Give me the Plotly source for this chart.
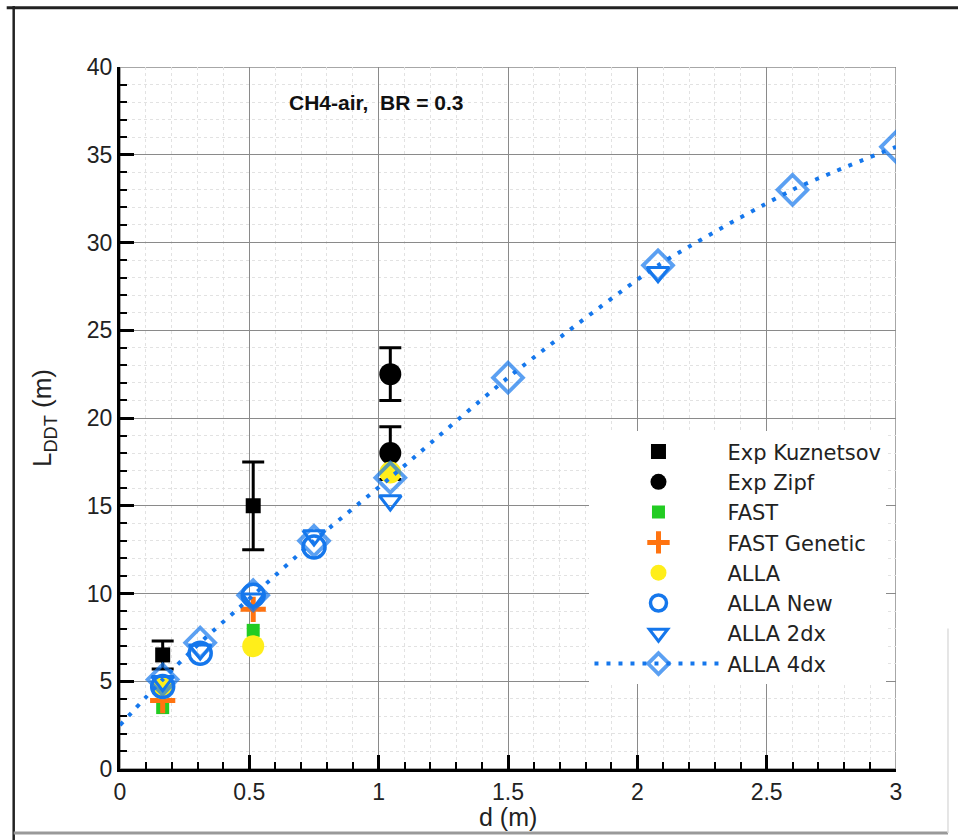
import plotly.graph_objects as go

# ---- data ----
kuz_x = [0.165, 0.515]
kuz_y = [6.5, 15.0]
kuz_err = [0.8, 2.5]

zipf_x = [1.045, 1.045]
zipf_y = [22.5, 18.0]
zipf_err = [1.5, 1.5]

fast_x = [0.165, 0.515]
fast_y = [3.5, 7.9]

fastgen_x = [0.165, 0.515]
fastgen_y = [3.9, 9.1]

alla_x = [0.165, 0.515, 1.045]
alla_y = [4.6, 7.0, 16.9]

allanew_x = [0.165, 0.31, 0.515, 0.75]
allanew_y = [4.7, 6.6, 9.9, 12.65]

alla2_x = [0.165, 0.31, 0.515, 0.75, 1.045, 2.08]
alla2_y = [5.0, 6.8, 9.7, 13.3, 15.3, 28.3]

alla4_x = [0.0, 0.165, 0.31, 0.515, 0.75, 1.045, 1.5, 2.08, 2.6, 3.0]
alla4_y = [2.5, 5.1, 7.2, 9.9, 13.0, 16.6, 22.3, 28.7, 33.0, 35.45]

x_ticks = [0, 0.5, 1, 1.5, 2, 2.5, 3]
x_labels = ["0", "0.5", "1", "1.5", "2", "2.5", "3"]
y_ticks = [0, 5, 10, 15, 20, 25, 30, 35, 40]

BLUE = "#1577ec"
NARROW = "Liberation Sans Narrow, Arial Narrow, Liberation Sans, Arial"
LEG = "DejaVu Sans, Liberation Sans, Arial"

fig = go.Figure()

fig.add_trace(go.Scatter(
    x=kuz_x, y=kuz_y, mode="markers", name="Exp Kuznetsov",
    marker=dict(symbol="square", size=15, color="black"),
    error_y=dict(type="data", array=kuz_err, color="black", thickness=3, width=11),
))
fig.add_trace(go.Scatter(
    x=zipf_x, y=zipf_y, mode="markers", name="Exp Zipf",
    marker=dict(symbol="circle", size=22, color="black"),
    error_y=dict(type="data", array=zipf_err, color="black", thickness=3, width=11),
))
fig.add_trace(go.Scatter(
    x=fast_x, y=fast_y, mode="markers", name="FAST",
    marker=dict(symbol="square", size=13, color="#22cc22"),
))
fig.add_trace(go.Scatter(
    x=fastgen_x, y=fastgen_y, mode="markers", name="FAST Genetic",
    marker=dict(symbol="cross-thin", size=18, color="#ff7310",
                line=dict(width=5, color="#ff7310")),
))
fig.add_trace(go.Scatter(
    x=alla_x, y=alla_y, mode="markers", name="ALLA",
    marker=dict(symbol="circle", size=22, color="#ffee1a"),
))
fig.add_trace(go.Scatter(
    x=allanew_x, y=allanew_y, mode="markers", name="ALLA New",
    marker=dict(symbol="circle-open", size=22, color=BLUE, line=dict(width=3.5, color=BLUE)),
))
fig.add_trace(go.Scatter(
    x=alla2_x, y=alla2_y, mode="markers", name="ALLA 2dx",
    marker=dict(symbol="triangle-down-open", size=19, color=BLUE, line=dict(width=3, color=BLUE)),
))
fig.add_trace(go.Scatter(
    x=alla4_x, y=alla4_y, mode="lines+markers", name="ALLA 4dx",
    line=dict(color=BLUE, width=4, dash="4px,8px", shape="spline", smoothing=0.6),
    marker=dict(symbol="diamond-open", size=[0] + [23] * (len(alla4_x) - 1),
                color=BLUE, line=dict(width=3.8, color=BLUE)),
))

fig.add_annotation(
    x=0.993, y=37.95, xref="x", yref="y", text="<b>CH4-air,  BR = 0.3</b>",
    showarrow=False, font=dict(family=NARROW, size=21, color="#111111"),
)
# x-axis title
fig.add_annotation(
    x=0.5, y=-0.068, xref="paper", yref="paper", text="d (m)",
    showarrow=False, xanchor="center", yanchor="middle",
    font=dict(family=NARROW, size=25, color="#222222"),
)

# plot border (top / right) in gray
fig.add_shape(type="rect", xref="x", yref="y", x0=0, x1=3, y0=0, y1=40,
              line=dict(color="#8a8a8a", width=1.5), layer="below")

# outer page frame
fig.add_shape(type="line", xref="paper", yref="paper", x0=-0.146, x1=1.08, y0=1.0845, y1=1.0845,
              line=dict(color="#222222", width=3))
fig.add_shape(type="line", xref="paper", yref="paper", x0=-0.137, x1=-0.137, y0=1.087, y1=-0.11,
              line=dict(color="#222222", width=2.5))
fig.add_shape(type="line", xref="paper", yref="paper", x0=-0.137, x1=1.067, y0=-0.091, y1=-0.091,
              line=dict(color="#999999", width=3))
fig.add_shape(type="line", xref="paper", yref="paper", x0=1.067, x1=1.067, y0=0.2, y1=-0.091,
              line=dict(color="#dddddd", width=1.5))

axis_common = dict(
    showline=True, linecolor="black", linewidth=3,
    ticks="inside", tickcolor="black", tickwidth=3, ticklen=14,
    showgrid=True, gridcolor="#8a8a8a", gridwidth=1.3,
    zeroline=False,
    tickfont=dict(family=NARROW, size=23, color="#222222"),
)

fig.update_xaxes(
    range=[0, 3], tickvals=x_ticks, ticktext=x_labels,
    minor=dict(dtick=0.1, ticks="inside", ticklen=7, tickwidth=1.5, tickcolor="black",
               showgrid=True, gridcolor="#e2e2e2", griddash="dot", gridwidth=1),
    **axis_common,
)
fig.update_yaxes(
    range=[0, 40], tickvals=y_ticks,
    title=dict(text="L<sub>DDT</sub> (m)", font=dict(family=NARROW, size=26, color="#222222"), standoff=28),
    minor=dict(dtick=1, ticks="inside", ticklen=7, tickwidth=1.5, tickcolor="black",
               showgrid=True, gridcolor="#e2e2e2", griddash="dot", gridwidth=1),
    **axis_common,
)

fig.update_layout(
    width=958, height=840,
    margin=dict(l=120, r=62, t=67, b=71),
    paper_bgcolor="white", plot_bgcolor="white",
    showlegend=True,
    legend=dict(
        x=0.605, y=0.481, xanchor="left", yanchor="top",
        bgcolor="white", borderwidth=0,
        font=dict(family=LEG, size=21, color="#222222"),
        itemwidth=128, tracegroupgap=0,
    ),
)

fig.write_html("out.html", config={"displayModeBar": False},
               post_script="document.body.style.margin='0px';")
